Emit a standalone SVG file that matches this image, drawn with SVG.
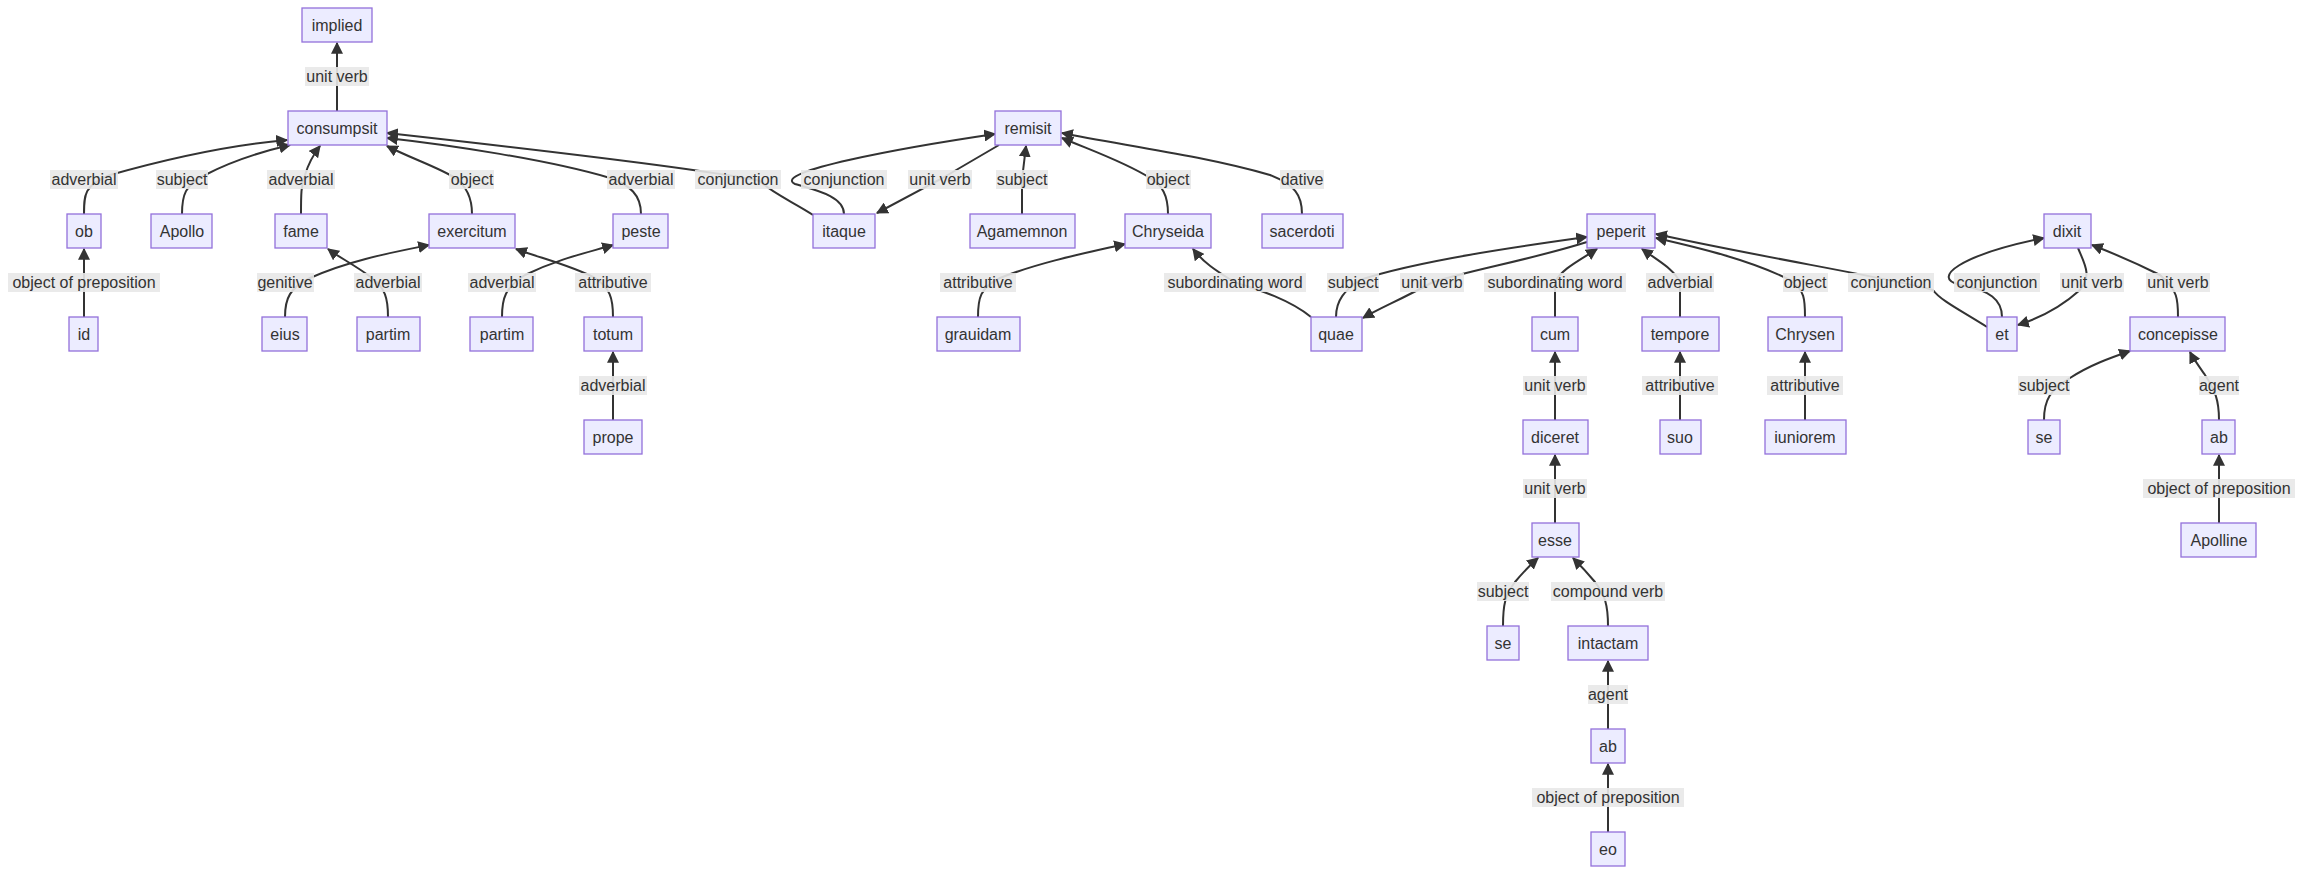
<svg xmlns="http://www.w3.org/2000/svg" width="2303" height="874" viewBox="0 0 2303 874">
<style>
.n rect{fill:#ECECFF;stroke:#9370DB;stroke-width:1.3}
text{font-family:"Liberation Sans",Arial,sans-serif;font-size:16px;fill:#333;text-anchor:middle}
.e path{fill:none;stroke:#333;stroke-width:2;marker-end:url(#a)}
.l rect{fill:#e8e8e8;opacity:0.9}
</style>
<defs><marker id="a" viewBox="0 0 10 10" refX="9" refY="5" markerWidth="12" markerHeight="12" markerUnits="userSpaceOnUse" orient="auto"><path d="M0,0L10,5L0,10z" fill="#333"/></marker></defs>
<g class="e" id="connectors">
<path d="M337,111L337,43"/>
<path d="M84,214C84,195 84,185 110,175C170,158 230,145 287,140"/>
<path d="M182,214C182,195 185,185 205,175C230,162 260,152 290,145"/>
<path d="M301,214C301,195 301,185 305,175C308,165 313,155 320,146"/>
<path d="M472,214C472,195 465,185 455,178C440,168 410,158 387,146"/>
<path d="M641,214C641,195 630,185 610,178C550,160 450,145 387,138"/>
<path d="M813,215C795,203 770,192 760,181C700,168 450,140 387,133"/>
<path d="M844,214C844,196 815,190 795,184C770,172 900,148 995,134"/>
<path d="M999,145L940,179.5L877,213"/>
<path d="M1022,214L1022,179.5L1026,146"/>
<path d="M1168,214C1168,195 1162,185 1150,178C1125,162 1090,150 1062,138"/>
<path d="M1302,214C1302,195 1295,185 1270,175C1200,155 1120,145 1062,133"/>
<path d="M978,317C978,298 980,288 1000,278C1040,262 1090,252 1125,244"/>
<path d="M1311,317C1290,300 1260,290 1235,282.5C1215,270 1203,262 1193,249"/>
<path d="M1336,317C1336,300 1345,290 1360,280C1420,260 1530,245 1587,237"/>
<path d="M1587,242C1530,260 1470,270 1432,282.5C1400,300 1380,308 1363,318"/>
<path d="M1555,317L1555,282.5C1560,270 1580,260 1597,249"/>
<path d="M1680,317L1680,282.5C1675,270 1660,262 1642,249"/>
<path d="M1805,317C1805,300 1805,290 1790,280C1750,260 1700,248 1656,238"/>
<path d="M1987,327C1960,310 1940,300 1933,290C1900,280 1750,255 1656,234"/>
<path d="M2002,317C2002,300 1990,290 1960,285C1930,278 1960,255 2044,238"/>
<path d="M2078,248C2085,265 2092,275 2080,290C2060,308 2040,318 2018,325"/>
<path d="M2178,317C2178,300 2178,290 2160,275C2130,260 2110,252 2092,245"/>
<path d="M1555,420L1555,352"/>
<path d="M1680,420L1680,352"/>
<path d="M1805,420L1805,352"/>
<path d="M2044,420C2044,400 2050,390 2070,378C2090,365 2110,358 2130,351"/>
<path d="M2219,420C2219,400 2215,390 2205,375C2198,365 2193,358 2190,352"/>
<path d="M1555,523L1555,455"/>
<path d="M2219,523L2219,455"/>
<path d="M1503,626C1503,605 1505,595 1515,582C1525,570 1530,565 1538,558"/>
<path d="M1608,626C1608,605 1605,595 1595,582C1585,570 1580,565 1573,558"/>
<path d="M1608,729L1608,661"/>
<path d="M1608,832L1608,764"/>
<path d="M84,317L84,249"/>
<path d="M285,317C285,298 290,288 310,278C350,260 395,252 429,245"/>
<path d="M388,317C388,298 385,288 372,278C355,265 340,258 328,249"/>
<path d="M502,317C502,298 505,288 525,275C560,258 590,252 613,245"/>
<path d="M613,317C613,298 610,288 595,278C570,265 540,258 516,249"/>
<path d="M613,420L613,352"/>
</g>
<g class="l">
<rect x="305" y="67" width="64" height="19"/><text x="337" y="82">unit verb</text>
<rect x="50" y="170" width="68" height="19"/><text x="84" y="185">adverbial</text>
<rect x="156" y="170" width="52" height="19"/><text x="182" y="185">subject</text>
<rect x="267" y="170" width="68" height="19"/><text x="301" y="185">adverbial</text>
<rect x="449" y="170" width="45" height="19"/><text x="472" y="185">object</text>
<rect x="607" y="170" width="68" height="19"/><text x="641" y="185">adverbial</text>
<rect x="695" y="170" width="86" height="19"/><text x="738" y="185">conjunction</text>
<rect x="801" y="170" width="86" height="19"/><text x="844" y="185">conjunction</text>
<rect x="908" y="170" width="64" height="19"/><text x="940" y="185">unit verb</text>
<rect x="996" y="170" width="52" height="19"/><text x="1022" y="185">subject</text>
<rect x="1146" y="170" width="45" height="19"/><text x="1168" y="185">object</text>
<rect x="1280" y="170" width="44" height="19"/><text x="1302" y="185">dative</text>
<rect x="8" y="273" width="152" height="19"/><text x="84" y="288">object of preposition</text>
<rect x="257" y="273" width="57" height="19"/><text x="285" y="288">genitive</text>
<rect x="354" y="273" width="68" height="19"/><text x="388" y="288">adverbial</text>
<rect x="468" y="273" width="68" height="19"/><text x="502" y="288">adverbial</text>
<rect x="575" y="273" width="76" height="19"/><text x="613" y="288">attributive</text>
<rect x="940" y="273" width="76" height="19"/><text x="978" y="288">attributive</text>
<rect x="1164" y="273" width="142" height="19"/><text x="1235" y="288">subordinating word</text>
<rect x="1327" y="273" width="52" height="19"/><text x="1353" y="288">subject</text>
<rect x="1400" y="273" width="64" height="19"/><text x="1432" y="288">unit verb</text>
<rect x="1484" y="273" width="142" height="19"/><text x="1555" y="288">subordinating word</text>
<rect x="1646" y="273" width="68" height="19"/><text x="1680" y="288">adverbial</text>
<rect x="1783" y="273" width="45" height="19"/><text x="1805" y="288">object</text>
<rect x="1848" y="273" width="86" height="19"/><text x="1891" y="288">conjunction</text>
<rect x="1954" y="273" width="86" height="19"/><text x="1997" y="288">conjunction</text>
<rect x="2060" y="273" width="64" height="19"/><text x="2092" y="288">unit verb</text>
<rect x="2146" y="273" width="64" height="19"/><text x="2178" y="288">unit verb</text>
<rect x="579" y="376" width="68" height="19"/><text x="613" y="391">adverbial</text>
<rect x="1523" y="376" width="64" height="19"/><text x="1555" y="391">unit verb</text>
<rect x="1642" y="376" width="76" height="19"/><text x="1680" y="391">attributive</text>
<rect x="1767" y="376" width="76" height="19"/><text x="1805" y="391">attributive</text>
<rect x="2018" y="376" width="52" height="19"/><text x="2044" y="391">subject</text>
<rect x="2199" y="376" width="40" height="19"/><text x="2219" y="391">agent</text>
<rect x="1523" y="479" width="64" height="19"/><text x="1555" y="494">unit verb</text>
<rect x="2143" y="479" width="152" height="19"/><text x="2219" y="494">object of preposition</text>
<rect x="1477" y="582" width="52" height="19"/><text x="1503" y="597">subject</text>
<rect x="1551" y="582" width="114" height="19"/><text x="1608" y="597">compound verb</text>
<rect x="1588" y="685" width="40" height="19"/><text x="1608" y="700">agent</text>
<rect x="1532" y="788" width="152" height="19"/><text x="1608" y="803">object of preposition</text>
</g>
<g class="n" id="implied"><rect x="302" y="8" width="70" height="34"/><text x="337" y="31">implied</text></g>
<g class="n" id="consumpsit"><rect x="288" y="111" width="99" height="34"/><text x="337" y="134">consumpsit</text></g>
<g class="n" id="ob"><rect x="67" y="214" width="34" height="34"/><text x="84" y="237">ob</text></g>
<g class="n" id="Apollo"><rect x="151" y="214" width="61" height="34"/><text x="182" y="237">Apollo</text></g>
<g class="n" id="fame"><rect x="275" y="214" width="52" height="34"/><text x="301" y="237">fame</text></g>
<g class="n" id="exercitum"><rect x="429" y="214" width="86" height="34"/><text x="472" y="237">exercitum</text></g>
<g class="n" id="peste"><rect x="613" y="214" width="55" height="34"/><text x="641" y="237">peste</text></g>
<g class="n" id="id"><rect x="69" y="317" width="29" height="34"/><text x="84" y="340">id</text></g>
<g class="n" id="eius"><rect x="262" y="317" width="45" height="34"/><text x="285" y="340">eius</text></g>
<g class="n" id="partim1"><rect x="357" y="317" width="63" height="34"/><text x="388" y="340">partim</text></g>
<g class="n" id="partim2"><rect x="470" y="317" width="63" height="34"/><text x="502" y="340">partim</text></g>
<g class="n" id="totum"><rect x="584" y="317" width="58" height="34"/><text x="613" y="340">totum</text></g>
<g class="n" id="prope"><rect x="584" y="420" width="58" height="34"/><text x="613" y="443">prope</text></g>
<g class="n" id="remisit"><rect x="995" y="111" width="66" height="34"/><text x="1028" y="134">remisit</text></g>
<g class="n" id="itaque"><rect x="813" y="214" width="62" height="34"/><text x="844" y="237">itaque</text></g>
<g class="n" id="Agamemnon"><rect x="970" y="214" width="105" height="34"/><text x="1022" y="237">Agamemnon</text></g>
<g class="n" id="Chryseida"><rect x="1125" y="214" width="86" height="34"/><text x="1168" y="237">Chryseida</text></g>
<g class="n" id="sacerdoti"><rect x="1262" y="214" width="81" height="34"/><text x="1302" y="237">sacerdoti</text></g>
<g class="n" id="grauidam"><rect x="937" y="317" width="83" height="34"/><text x="978" y="340">grauidam</text></g>
<g class="n" id="quae"><rect x="1311" y="317" width="51" height="34"/><text x="1336" y="340">quae</text></g>
<g class="n" id="peperit"><rect x="1587" y="214" width="68" height="34"/><text x="1621" y="237">peperit</text></g>
<g class="n" id="dixit"><rect x="2044" y="214" width="47" height="34"/><text x="2067" y="237">dixit</text></g>
<g class="n" id="cum"><rect x="1532" y="317" width="46" height="34"/><text x="1555" y="340">cum</text></g>
<g class="n" id="tempore"><rect x="1642" y="317" width="77" height="34"/><text x="1680" y="340">tempore</text></g>
<g class="n" id="Chrysen"><rect x="1768" y="317" width="74" height="34"/><text x="1805" y="340">Chrysen</text></g>
<g class="n" id="et"><rect x="1987" y="317" width="30" height="34"/><text x="2002" y="340">et</text></g>
<g class="n" id="concepisse"><rect x="2130" y="317" width="95" height="34"/><text x="2178" y="340">concepisse</text></g>
<g class="n" id="diceret"><rect x="1523" y="420" width="65" height="34"/><text x="1555" y="443">diceret</text></g>
<g class="n" id="suo"><rect x="1660" y="420" width="41" height="34"/><text x="1680" y="443">suo</text></g>
<g class="n" id="iuniorem"><rect x="1765" y="420" width="81" height="34"/><text x="1805" y="443">iuniorem</text></g>
<g class="n" id="se1"><rect x="2028" y="420" width="32" height="34"/><text x="2044" y="443">se</text></g>
<g class="n" id="ab1"><rect x="2202" y="420" width="33" height="34"/><text x="2219" y="443">ab</text></g>
<g class="n" id="esse"><rect x="1532" y="523" width="47" height="34"/><text x="1555" y="546">esse</text></g>
<g class="n" id="Apolline"><rect x="2181" y="523" width="75" height="34"/><text x="2219" y="546">Apolline</text></g>
<g class="n" id="se2"><rect x="1487" y="626" width="32" height="34"/><text x="1503" y="649">se</text></g>
<g class="n" id="intactam"><rect x="1568" y="626" width="80" height="34"/><text x="1608" y="649">intactam</text></g>
<g class="n" id="ab2"><rect x="1591" y="729" width="34" height="34"/><text x="1608" y="752">ab</text></g>
<g class="n" id="eo"><rect x="1591" y="832" width="34" height="34"/><text x="1608" y="855">eo</text></g>
</svg>
